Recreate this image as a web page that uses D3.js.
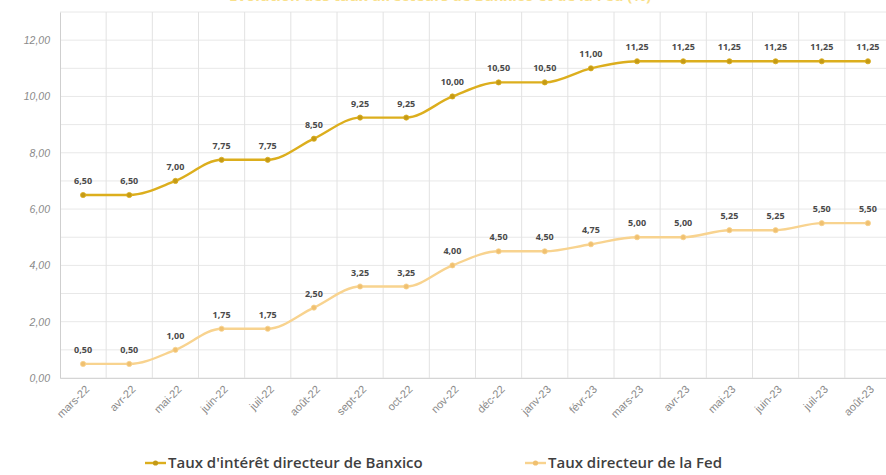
<!DOCTYPE html>
<html><head><meta charset="utf-8">
<script src="https://cdn.jsdelivr.net/npm/d3@7"></script>
<style>
html,body{margin:0;padding:0;background:#fff;}
svg{display:block;font-family:"Open Sans","Noto Sans",sans-serif;}
</style></head>
<body><svg id="c" width="886" height="475"></svg>
<script>
const months = ["mars-22","avr-22","mai-22","juin-22","juil-22","août-22","sept-22","oct-22","nov-22","déc-22","janv-23","févr-23","mars-23","avr-23","mai-23","juin-23","juil-23","août-23"];
const banxico = [6.50,6.50,7.00,7.75,7.75,8.50,9.25,9.25,10.00,10.50,10.50,11.00,11.25,11.25,11.25,11.25,11.25,11.25];
const fed = [0.50,0.50,1.00,1.75,1.75,2.50,3.25,3.25,4.00,4.50,4.50,4.75,5.00,5.00,5.25,5.25,5.50,5.50];
const yTicks = [0,2,4,6,8,10,12];
const seriesNames = ["Taux d'intérêt directeur de Banxico","Taux directeur de la Fed"];
const title = "Évolution des taux directeurs de Banxico et de la Fed (%)";

const svg = d3.select("#c");
const x = d3.scaleBand().domain(months).range([60, 891]);
const y = d3.scaleLinear().domain([0, 13]).range([378, 12]);
const fmt = v => d3.format(".2f")(v).replace(".", ",");

// title (clipped at top, as in the reference)
svg.append("text").attr("x", 440).attr("y", 1).attr("text-anchor", "middle")
  .attr("font-size", 15).attr("font-weight", "bold").attr("fill", "#f9e08a").text(title);

// horizontal gridlines
const g = svg.append("g");
g.selectAll("line.h").data(d3.range(0, 14)).join("line")
  .attr("x1", 60).attr("x2", 891).attr("y1", d => y(d)).attr("y2", d => y(d))
  .attr("stroke", "#e8e8e8").attr("stroke-width", 1);
// vertical gridlines at band boundaries
g.selectAll("line.v").data(months).join("line")
  .attr("x1", d => x(d) + x.bandwidth()).attr("x2", d => x(d) + x.bandwidth())
  .attr("y1", y(13)).attr("y2", y(0))
  .attr("stroke", "#e2e2e2").attr("stroke-width", 1);

// y axis
const yAxis = svg.append("g").attr("transform", "translate(60,0)")
  .call(d3.axisLeft(y).tickValues(yTicks).tickFormat(fmt).tickSize(0).tickPadding(10));
yAxis.select(".domain").attr("stroke", "#cfcfcf");
yAxis.selectAll("text").attr("font-size", 10.5).attr("font-style", "italic").attr("fill", "#8a8a8a");

// x axis
const xAxis = svg.append("g").attr("transform", `translate(0,${y(0)})`)
  .call(d3.axisBottom(x).tickSize(0).tickPadding(0));
xAxis.select(".domain").attr("stroke", "#d5d5d5");
xAxis.selectAll("text").attr("font-size", 11).attr("fill", "#8a8a8a")
  .attr("text-anchor", "end").attr("dy", 0)
  .attr("transform", "translate(7,12) rotate(-45)");

const cx = d => x(d) + x.bandwidth() / 2;
const series = [
  {name: seriesNames[0], values: banxico, color: "#dcae1d", marker: "#c49a17"},
  {name: seriesNames[1], values: fed, color: "#f8d38f", marker: "#f0c070"}
];
const line = d3.line().x((d, i) => cx(months[i])).y(d => y(d)).curve(d3.curveMonotoneX);

series.forEach(s => {
  svg.append("path").datum(s.values).attr("d", line)
    .attr("fill", "none").attr("stroke", s.color).attr("stroke-width", 2.4);
  svg.selectAll(null).data(s.values).join("circle")
    .attr("cx", (d, i) => cx(months[i])).attr("cy", d => y(d)).attr("r", 2.6)
    .attr("fill", s.marker).attr("stroke", s.color).attr("stroke-width", 0.8);
  svg.selectAll(null).data(s.values).join("text")
    .attr("x", (d, i) => cx(months[i])).attr("y", d => y(d) - 11)
    .attr("text-anchor", "middle").attr("font-size", 9).attr("font-weight", "bold")
    .attr("fill", "#4a4a4a").text(fmt);
});

// legend
const leg = [{xs: 145, s: series[0]}, {xs: 525, s: series[1]}];
leg.forEach(l => {
  const gl = svg.append("g");
  gl.append("line").attr("x1", l.xs).attr("x2", l.xs + 21).attr("y1", 463).attr("y2", 463)
    .attr("stroke", l.s.color).attr("stroke-width", 2.4);
  gl.append("circle").attr("cx", l.xs + 10.5).attr("cy", 463).attr("r", 2.6)
    .attr("fill", l.s.marker);
  gl.append("text").attr("x", l.xs + 23).attr("y", 463).attr("dy", "0.35em")
    .attr("font-size", 15).attr("font-weight", "600").attr("fill", "#3f3f3f").text(l.s.name);
});
</script></body></html>
